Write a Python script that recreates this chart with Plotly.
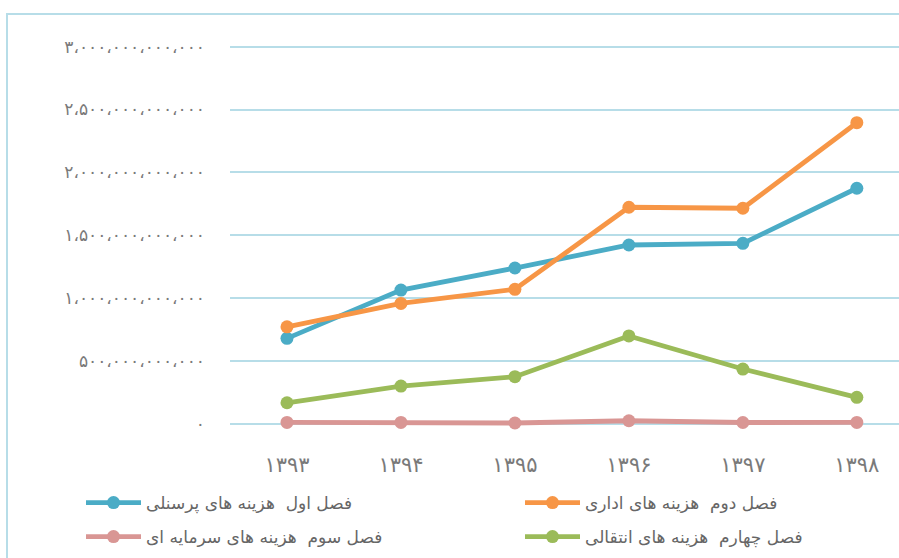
import plotly.graph_objects as go

years = ["۱۳۹۳", "۱۳۹۴", "۱۳۹۵", "۱۳۹۶", "۱۳۹۷", "۱۳۹۸"]

personnel = [681e9, 1065e9, 1240e9, 1423e9, 1436e9, 1874e9]
admin = [773e9, 959e9, 1071e9, 1723e9, 1715e9, 2395e9]
capital = [13e9, 13e9, 8e9, 26e9, 12e9, 13e9]
transfer = [169e9, 302e9, 376e9, 700e9, 437e9, 212e9]

series_names = [
    "فصل اول  هزینه های پرسنلی",
    "فصل دوم  هزینه های اداری",
    "فصل سوم  هزینه های سرمایه ای",
    "فصل چهارم  هزینه های انتقالی",
]
series_colors = ["#4bacc6", "#f79646", "#d99694", "#9bbb59"]

tick_vals = [0, 500e9, 1000e9, 1500e9, 2000e9, 2500e9, 3000e9]
tick_text = [
    "۰",
    "۵۰۰،۰۰۰،۰۰۰،۰۰۰",
    "۱،۰۰۰،۰۰۰،۰۰۰،۰۰۰",
    "۱،۵۰۰،۰۰۰،۰۰۰،۰۰۰",
    "۲،۰۰۰،۰۰۰،۰۰۰،۰۰۰",
    "۲،۵۰۰،۰۰۰،۰۰۰،۰۰۰",
    "۳،۰۰۰،۰۰۰،۰۰۰،۰۰۰",
]

FONT = "DejaVu Sans, Noto Sans, sans-serif"

W, H = 899, 558
L, R, T, B = 230, 0, 20, 118
plot_w = W - L - R
plot_h = H - T - B

# legend placement (pixel positions of each legend box)
leg_pos = [(81, 503), (520, 503), (81, 537), (520, 537)]
leg_ids = ["legend", "legend2", "legend3", "legend4"]

fig = go.Figure()
for name, vals, col, lid in zip(series_names, [personnel, admin, capital, transfer],
                                series_colors, leg_ids):
    fig.add_trace(go.Scatter(
        x=years, y=vals, name=name, mode="lines+markers",
        line=dict(color=col, width=4.8),
        marker=dict(color=col, size=13),
        legend=lid,
    ))

layout_legends = {}
for lid, (px, py) in zip(leg_ids, leg_pos):
    layout_legends[lid] = dict(
        x=(px - L) / plot_w, xanchor="left",
        y=(H - B - py) / plot_h, yanchor="middle",
        itemwidth=55,
        font=dict(size=17, color="#666666", family=FONT),
        bgcolor="rgba(0,0,0,0)",
    )

fig.update_layout(
    width=W, height=H,
    margin=dict(l=L, r=R, t=T, b=B, pad=0, autoexpand=False),
    paper_bgcolor="white", plot_bgcolor="white",
    font=dict(family=FONT, color="#7a7a7a"),
    showlegend=True,
    xaxis=dict(
        type="category", range=[-0.5, 5.37],
        showgrid=False, zeroline=False, showline=False, ticks="",
        tickfont=dict(size=21, color="#7a7a7a"),
        ticklabelstandoff=10,
        fixedrange=True,
    ),
    yaxis=dict(
        range=[-0.127e12, 3.2115e12],
        tickvals=tick_vals, ticktext=tick_text,
        showgrid=True, gridcolor="#b7dde8", gridwidth=2,
        zeroline=False, showline=False, ticks="",
        tickfont=dict(size=17, color="#7a7a7a"),
        ticklabelstandoff=24,
        fixedrange=True,
    ),
    shapes=[dict(
        type="rect", xref="paper", yref="paper",
        x0=(7 - L) / plot_w, x1=1.2,
        y0=-1, y1=(H - B - 14) / plot_h,
        line=dict(color="#b7dde8", width=2), fillcolor="rgba(0,0,0,0)",
        layer="below",
    )],
    **layout_legends,
)

fig.write_html("out.html", config={"displayModeBar": False},
               post_script="document.body.style.margin='0';")
